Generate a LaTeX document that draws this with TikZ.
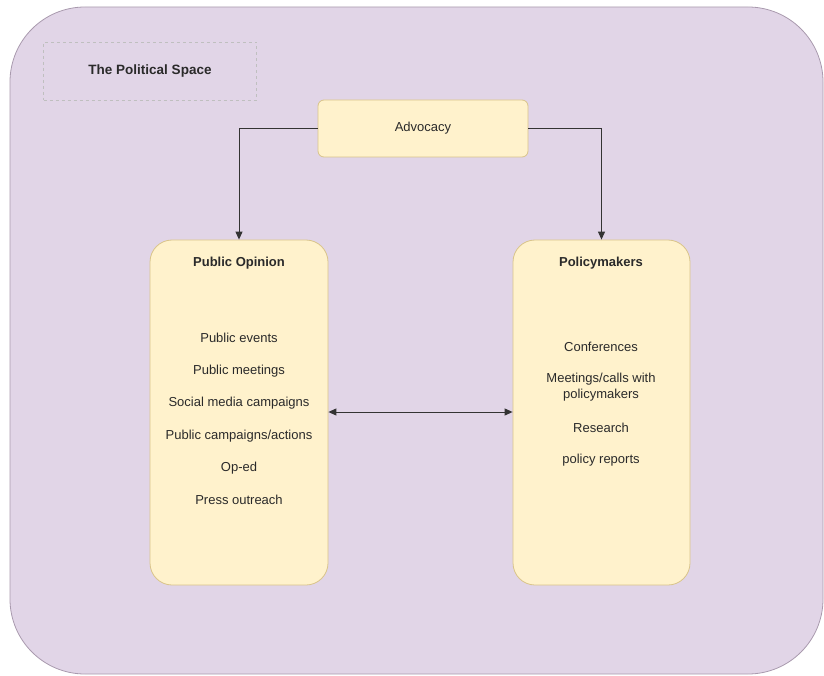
\documentclass[tikz,border=0pt]{standalone}
\usepackage{fontspec}
\setmainfont{Liberation Sans}
\usetikzlibrary{arrows.meta}
\definecolor{bgpurple}{HTML}{E1D5E7}
\definecolor{bgstroke}{HTML}{A99AAE}
\definecolor{boxfill}{HTML}{FFF2CC}
\definecolor{boxstroke}{HTML}{D9C48A}
\definecolor{txt}{HTML}{2A2A2A}
\begin{document}
\begin{tikzpicture}[x=1pt,y=-1pt,
  box/.style={draw=boxstroke,fill=boxfill,line width=0.8pt},
  item/.style={text=txt,font=\fontsize{13}{15}\selectfont,align=center},
  bolditem/.style={text=txt,font=\bfseries\fontsize{13}{15}\selectfont,align=center},
  conn/.style={draw=black!80,line width=1pt,-{Triangle[length=8pt,width=7pt]}}]
\useasboundingbox (0,0) rectangle (824,676);
\draw[fill=bgpurple,draw=bgstroke,line width=0.8pt,rounded corners=75pt] (10,7) rectangle (823,674);
\node[draw=black!25,dashed,minimum width=213pt,minimum height=58pt,bolditem,font=\bfseries\fontsize{13.5}{15}\selectfont] (title) at (150,71) {The Political Space};
\node[box,rounded corners=6pt,minimum width=210pt,minimum height=57pt,item] (adv) at (423,128.5) {Advocacy};
\node[box,rounded corners=22pt,minimum width=178pt,minimum height=345pt] (po) at (239,412.5) {};
\node[box,rounded corners=22pt,minimum width=177pt,minimum height=345pt] (pm) at (601.5,412.5) {};
% Public opinion texts
\node[bolditem] (pot) at (239,263) {Public Opinion};
\node[item] (p1) at (239,338) {Public events};
\node[item] (p2) at (239,371) {Public meetings};
\node[item] (p3) at (239,403) {Social media campaigns};
\node[item] (p4) at (239,436) {Public campaigns/actions};
\node[item] (p5) at (239,468) {Op-ed};
\node[item] (p6) at (239,500) {Press outreach};
% Policymakers texts
\node[bolditem] (pmt) at (601,263) {Policymakers};
\node[item] (m1) at (601,347) {Conferences};
\node[item,font=\fontsize{13}{16.5}\selectfont] (m2) at (601,387) {Meetings/calls with\\policymakers};
\node[item] (m3) at (601,428) {Research};
\node[item] (m4) at (601,460) {policy reports};
% connectors
\draw[conn] (adv.west) -| (po.north);
\draw[conn] (adv.east) -| (pm.north);
\draw[conn,{Triangle[length=8pt,width=7pt]}-{Triangle[length=8pt,width=7pt]}] (po.east |- 0,412) -- (pm.west |- 0,412);
\end{tikzpicture}
\end{document}
